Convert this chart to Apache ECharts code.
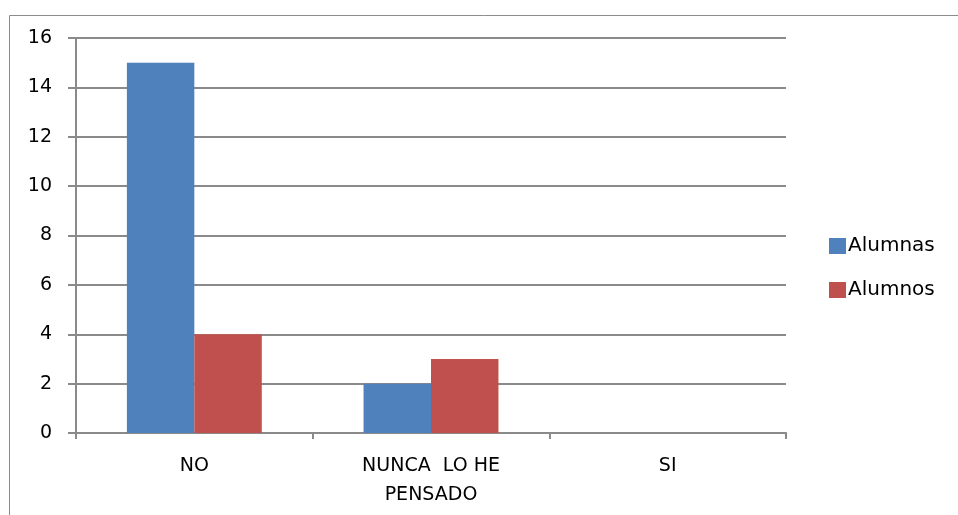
<!DOCTYPE html>
<html><head><meta charset="utf-8">
<script src="https://cdn.jsdelivr.net/npm/echarts@6/dist/echarts.min.js"></script>
<style>html,body{margin:0;padding:0;background:#fff}#c{width:958px;height:515px}</style>
</head><body><div id="c"></div>
<script>
const categories = ["NO", "NUNCA  LO HE\nPENSADO", "SI"];
const alumnas = [15, 2, 0];
const alumnos = [4, 3, 0];
const seriesNames = ["Alumnas", "Alumnos"];
const yTicks = { min: 0, max: 16, interval: 2 };

const FONT = "'DejaVu Sans', 'Liberation Sans', sans-serif";
const GRAY = "#8a8a8a";
const chart = echarts.init(document.getElementById('c'), null, { renderer: 'canvas' });
chart.setOption({
  animation: false,
  backgroundColor: '#fff',
  graphic: [{
    type: 'rect', left: 7, top: 13, silent: true,
    shape: { width: 960, height: 520 },
    style: { fill: 'none', stroke: '#8c8c8c', lineWidth: 1 }
  }],
  grid: { left: 76, right: 172, top: 38, bottom: 82 },
  legend: {
    orient: 'vertical', left: 824, top: 231,
    itemWidth: 17, itemHeight: 16, itemGap: 24,
    icon: 'rect',
    data: seriesNames,
    textStyle: { fontFamily: FONT, fontSize: 20, color: '#000', padding: [0, 0, 0, -3] }
  },
  xAxis: {
    type: 'category', data: categories,
    axisLine: { lineStyle: { color: GRAY, width: 2 } },
    axisTick: { show: true, length: 6, lineStyle: { color: GRAY, width: 2 } },
    axisLabel: { color: '#000', fontFamily: FONT, fontSize: 19, margin: 19, lineHeight: 29, interval: 0 }
  },
  yAxis: {
    type: 'value', min: yTicks.min, max: yTicks.max, interval: yTicks.interval,
    axisLine: { show: true, lineStyle: { color: GRAY, width: 2 } },
    axisTick: { show: true, length: 8, lineStyle: { color: GRAY, width: 2 } },
    axisLabel: { color: '#000', fontFamily: FONT, fontSize: 19, margin: 24 },
    splitLine: { lineStyle: { color: GRAY, width: 2 } }
  },
  series: [
    { name: seriesNames[0], type: 'bar', data: alumnas, barGap: '0%', barCategoryGap: '43%',
      itemStyle: { color: '#4F81BD' } },
    { name: seriesNames[1], type: 'bar', data: alumnos, barGap: '0%', barCategoryGap: '43%',
      itemStyle: { color: '#C0504D' } }
  ]
});
</script></body></html>
